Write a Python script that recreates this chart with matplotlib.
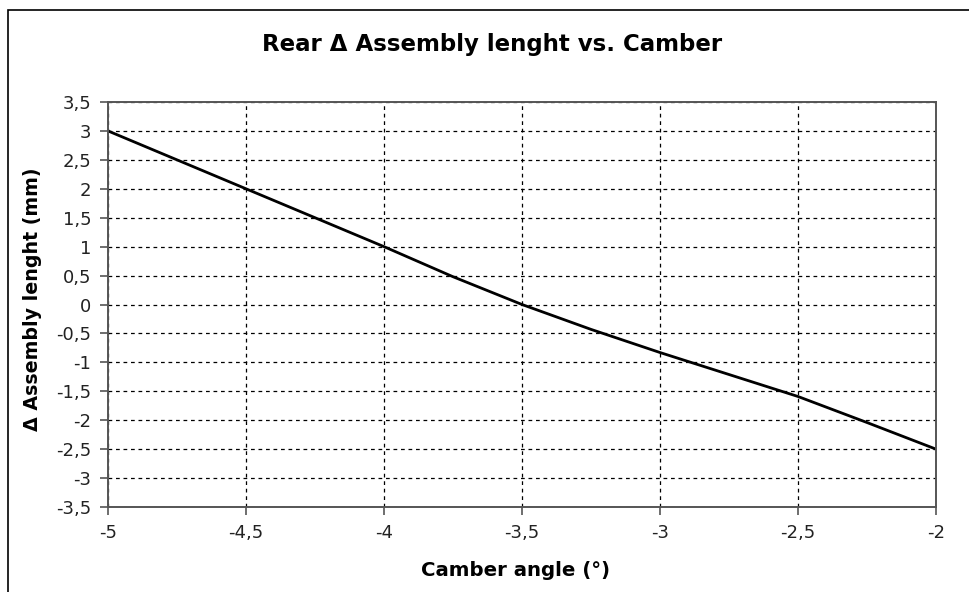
import matplotlib.pyplot as plt
from matplotlib.patches import Rectangle

# camber angle (deg) vs delta assembly length (mm)
camber = [-5.0, -4.5, -4.0, -3.75, -3.5, -3.25, -3.0, -2.5, -2.25, -2.0]
delta_len = [3.0, 2.0, 1.0, 0.48, 0.0, -0.43, -0.83, -1.59, -2.04, -2.5]

x_ticks = [-5, -4.5, -4, -3.5, -3, -2.5, -2]
y_ticks = [3.5, 3, 2.5, 2, 1.5, 1, 0.5, 0, -0.5, -1, -1.5, -2, -2.5, -3, -3.5]

plt.rcParams['font.family'] = ['DejaVu Sans']


def fmt(v):
    s = f'{v:g}'
    return s.replace('.', ',')


fig = plt.figure(figsize=(9.69, 5.92), dpi=100)
ax = fig.add_axes([108 / 969, 1 - 507 / 592, (936 - 108) / 969, (507 - 102) / 592])

ax.plot(camber, delta_len, color='black', linewidth=2.0, solid_joinstyle='round')

ax.set_xlim(-5, -2)
ax.set_ylim(-3.5, 3.5)
ax.set_xticks(x_ticks)
ax.set_xticklabels([fmt(v) for v in x_ticks])
ax.set_yticks(y_ticks)
ax.set_yticklabels([fmt(v) for v in y_ticks])

ax.grid(True, color='black', linestyle=(0, (3, 3)), linewidth=0.9)
for s in ax.spines.values():
    s.set_color('#555555')
    s.set_linewidth(1.4)
ax.tick_params(axis='both', direction='out', length=6, width=1.2, color='#555555',
               labelsize=13, labelcolor='#222222', pad=6)

fig.text(0.508, 1 - 44 / 592, 'Rear Δ Assembly lenght vs. Camber', ha='center', va='center',
         fontsize=16.5, fontweight='bold')
fig.text(0.532, 1 - 571 / 592, 'Camber angle (°)', ha='center', va='center',
         fontsize=14.2, fontweight='bold')
fig.text(33 / 969, 1 - 299 / 592, 'Δ Assembly lenght (mm)', ha='center', va='center',
         rotation=90, fontsize=13.7, fontweight='bold')

# outer chart border
fig.patches.append(Rectangle((8 / 969, -0.1), 1.2, 1.1 - 10 / 592, transform=fig.transFigure,
                             fill=False, edgecolor='black', linewidth=1.2))

fig.savefig('out.png', dpi=100)
